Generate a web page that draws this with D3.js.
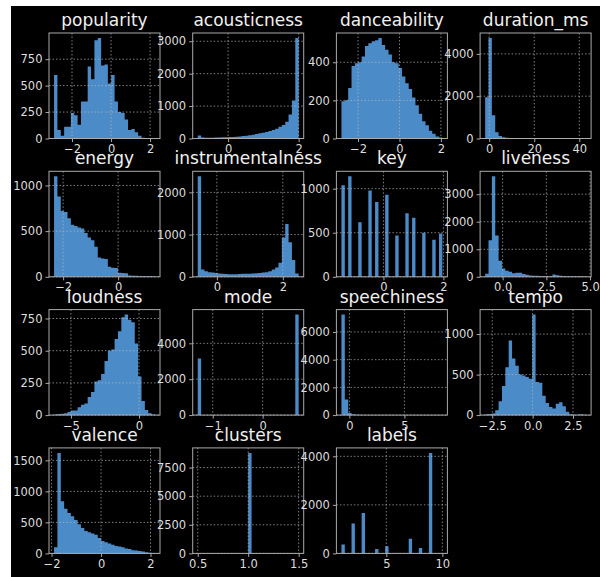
<!DOCTYPE html>
<html>
<head>
<meta charset="utf-8">
<script src="https://cdn.jsdelivr.net/npm/d3@7"></script>
<style>
  body { margin: 0; background: #fff; }
  svg { display: block; }
  text { font-family: "DejaVu Sans", sans-serif; }
</style>
</head>
<body>
<svg id="chart" width="600" height="577"></svg>
<script>
// column names, in the order pandas laid them out
var names = ["popularity", "acousticness", "danceability", "duration_ms",
             "energy", "instrumentalness", "key", "liveness",
             "loudness", "mode", "speechiness", "tempo",
             "valence", "clusters", "labels"];

// bin counts (30 bins each)
var popularity = [600, 80, 25, 110, 110, 240, 220, 130, 350, 350, 680, 560, 930, 950, 690, 700, 520, 600, 350, 250, 240, 180, 80, 90, 60, 25, 8, 0, 0, 3];
var acousticness = [90, 30, 25, 25, 25, 30, 30, 35, 40, 45, 50, 55, 65, 75, 85, 100, 115, 135, 160, 175, 200, 230, 260, 300, 360, 420, 520, 740, 1170, 3100];
var danceability = [195, 200, 265, 380, 395, 400, 430, 485, 500, 510, 515, 527, 490, 465, 440, 400, 395, 370, 325, 290, 260, 215, 175, 130, 90, 70, 40, 25, 10, 5];
var duration_ms = [1950, 4750, 1100, 300, 120, 60, 30, 15, 10, 6, 4, 3, 2, 1, 1, 1, 0, 1, 0, 0, 0, 0, 0, 0, 0, 0, 0, 0, 0, 1];
var energy = [1100, 880, 720, 710, 640, 570, 555, 540, 530, 480, 430, 400, 330, 210, 200, 195, 110, 100, 95, 45, 42, 40, 15, 12, 12, 10, 10, 10, 8, 5];
var instrumentalness = [2380, 170, 130, 110, 100, 90, 80, 70, 65, 60, 60, 60, 65, 70, 70, 75, 80, 85, 90, 100, 110, 130, 170, 220, 330, 930, 1250, 820, 400, 80];
var key = [1040, 0, 1140, 0, 0, 620, 0, 0, 980, 0, 850, 0, 0, 930, 0, 0, 470, 0, 0, 720, 0, 670, 0, 0, 500, 0, 0, 420, 0, 490];
var liveness = [110, 1330, 3650, 1500, 580, 300, 220, 180, 130, 150, 150, 100, 70, 50, 40, 35, 30, 25, 25, 20, 80, 60, 35, 25, 20, 20, 20, 20, 20, 15];
var loudness = [5, 8, 10, 15, 25, 35, 35, 60, 80, 90, 140, 180, 260, 270, 320, 420, 500, 510, 590, 650, 760, 780, 740, 720, 555, 300, 110, 40, 15, 5];
var mode = [3150, 0, 0, 0, 0, 0, 0, 0, 0, 0, 0, 0, 0, 0, 0, 0, 0, 0, 0, 0, 0, 0, 0, 0, 0, 0, 0, 0, 0, 5600];
var speechiness = [7250, 1130, 150, 60, 30, 20, 12, 8, 5, 5, 3, 3, 2, 2, 1, 1, 1, 0, 1, 0, 0, 0, 0, 0, 0, 0, 0, 0, 0, 1];
var tempo = [10, 15, 20, 60, 170, 360, 590, 920, 700, 610, 500, 490, 470, 450, 1240, 410, 400, 240, 150, 100, 80, 140, 160, 110, 40, 10, 5, 5, 10, 5];
var valence = [100, 1620, 840, 720, 650, 600, 540, 470, 410, 360, 340, 320, 300, 250, 200, 180, 160, 140, 120, 110, 100, 80, 70, 50, 45, 40, 30, 20, 10, 5];
var clusters = [0, 0, 0, 0, 0, 0, 0, 0, 0, 0, 0, 0, 0, 0, 0, 8780, 0, 0, 0, 0, 0, 0, 0, 0, 0, 0, 0, 0, 0, 0];
var labels = [370, 0, 0, 1230, 0, 0, 1660, 0, 0, 0, 180, 0, 0, 290, 0, 0, 0, 0, 0, 0, 600, 0, 0, 220, 0, 0, 4140, 0, 0, 15];

var counts = [popularity, acousticness, danceability, duration_ms,
              energy, instrumentalness, key, liveness,
              loudness, mode, speechiness, tempo,
              valence, clusters, labels];

// data min / max of each column (the bin range)
var ranges = [[-2.92, 2.25], [-0.86, 2.0], [-2.8, 2.07], [-1.8, 43],
              [-2.33, 1.34], [-0.58, 2.48], [-1.4, 1.965], [-1.0, 4.77],
              [-6.24, 1.17], [-1.3, 0.72], [-0.72, 8.45], [-2.94, 3.31],
              [-1.9, 2.18], [0.5, 1.5], [1, 10]];

var xTicks = [[-2, 0, 2], [0, 2], [-2, 0, 2], [0, 20, 40],
              [-2, 0], [0, 2], [0, 2], [0, 2.5, 5],
              [-5, 0], [-1, 0], [0, 5], [-2.5, 0, 2.5],
              [-2, 0, 2], [0.5, 1, 1.5], [5, 10]];

var yTicks = [[0, 250, 500, 750], [0, 1000, 2000, 3000], [0, 200, 400], [0, 2000, 4000],
              [0, 500, 1000], [0, 1000, 2000], [0, 500, 1000], [0, 1000, 2000, 3000],
              [0, 250, 500, 750], [0, 2000, 4000], [0, 2000, 4000, 6000], [0, 500, 1000],
              [0, 500, 1000, 1500], [0, 2500, 5000, 7500], [0, 2000, 4000]];

var svg = d3.select("#chart");

// dark figure background
svg.append("rect")
    .attr("x", 11).attr("y", 6)
    .attr("width", 589).attr("height", 571)
    .attr("fill", "#000");

var barColor = "#4b8bc8";
var axisColor = "#aaaaaa";
var textColor = "#dedede";

var colW = 143.7, rowH = 138.3;
var pw = 111, ph = 105.5;

names.forEach(function(name, i) {
    var col = i % 4, row = Math.floor(i / 4);
    var left = 49 + col * colW;
    var top = 33 + row * rowH;

    var lo = ranges[i][0], hi = ranges[i][1];
    var span = hi - lo;
    var data = counts[i];
    var binW = span / data.length;

    var x = d3.scaleLinear()
        .domain([lo - 0.05 * span, hi + 0.05 * span])
        .range([0, pw]);
    var y = d3.scaleLinear()
        .domain([0, d3.max(data) * 1.05])
        .range([ph, 0]);

    var g = svg.append("g").attr("transform", "translate(" + left + "," + top + ")");

    // bins as one stepped area, so neighbouring bars have no seams
    var steps = data.map(function(d, j) { return { x0: lo + j * binW, n: d }; });
    steps.push({ x0: hi, n: 0 });

    var area = d3.area()
        .curve(d3.curveStepAfter)
        .x(function(d) { return x(d.x0); })
        .y0(ph)
        .y1(function(d) { return y(d.n); });

    g.append("path")
        .datum(steps)
        .attr("d", area)
        .attr("fill", barColor);

    // grid on top of the bars
    var grid = g.append("g")
        .attr("stroke", "#bbbbbb")
        .attr("stroke-width", 0.8)
        .attr("stroke-dasharray", "1.5,2")
        .attr("opacity", 0.85);
    grid.selectAll(".vg")
        .data(xTicks[i])
        .enter().append("line")
        .attr("x1", function(d) { return x(d); })
        .attr("x2", function(d) { return x(d); })
        .attr("y1", 0).attr("y2", ph);
    grid.selectAll(".hg")
        .data(yTicks[i])
        .enter().append("line")
        .attr("y1", function(d) { return y(d); })
        .attr("y2", function(d) { return y(d); })
        .attr("x1", 0).attr("x2", pw);

    var fmtX = xTicks[i].some(function(t) { return t % 1 !== 0; }) ? d3.format(".1f") : d3.format("d");

    var xAxis = g.append("g")
        .attr("transform", "translate(0," + ph + ")")
        .call(d3.axisBottom(x).tickValues(xTicks[i]).tickFormat(fmtX).tickSize(3.5).tickPadding(3));
    var yAxis = g.append("g")
        .call(d3.axisLeft(y).tickValues(yTicks[i]).tickFormat(d3.format("d")).tickSize(3.5).tickPadding(3));

    [xAxis, yAxis].forEach(function(a) {
        a.select(".domain").remove();
        a.selectAll("line").attr("stroke", axisColor);
        a.selectAll("text")
            .attr("fill", textColor)
            .style("font-size", "11.5px")
            .style("font-family", "'DejaVu Sans', sans-serif");
    });

    g.append("rect")
        .attr("width", pw).attr("height", ph)
        .attr("fill", "none")
        .attr("stroke", axisColor)
        .attr("stroke-width", 1);

    g.append("text")
        .attr("x", pw / 2)
        .attr("y", -7)
        .attr("text-anchor", "middle")
        .attr("fill", "#f0f0f0")
        .style("font-size", "17px")
        .text(name);
});
</script>
</body>
</html>
